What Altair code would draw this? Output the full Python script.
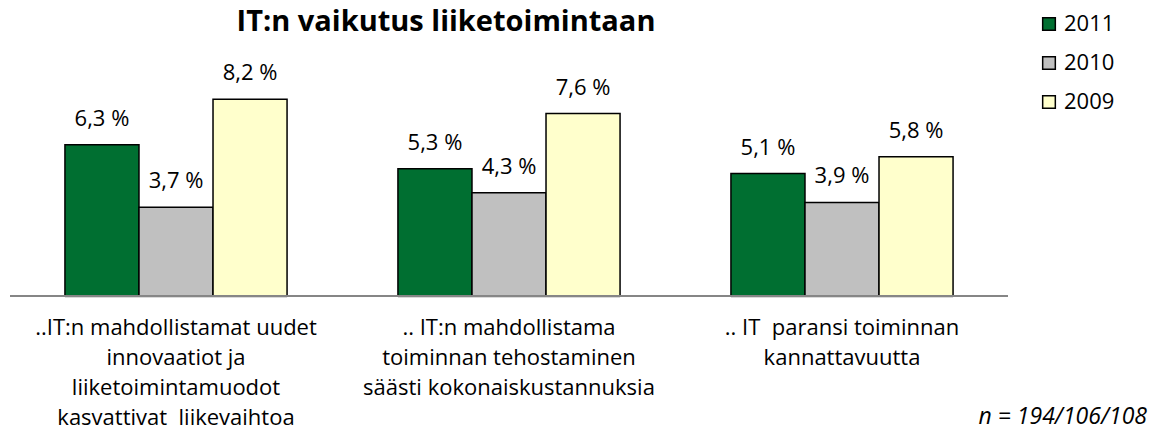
import altair as alt
import pandas as pd

categories = [
    "..IT:n mahdollistamat uudet|innovaatiot ja|liiketoimintamuodot|kasvattivat\u00a0 liikevaihtoa",
    ".. IT:n mahdollistama|toiminnan tehostaminen|säästi kokonaiskustannuksia",
    ".. IT\u00a0 paransi toiminnan|kannattavuutta",
]
years = ["2011", "2010", "2009"]
values_2011 = [6.3, 5.3, 5.1]
values_2010 = [3.7, 4.3, 3.9]
values_2009 = [8.2, 7.6, 5.8]
colors = ["#006F31", "#C0C0C0", "#FFFFCC"]

rows = []
for i, c in enumerate(categories):
    for y, vals in zip(years, [values_2011, values_2010, values_2009]):
        v = vals[i]
        rows.append({"cat": c, "year": y, "value": v,
                     "label": f"{v:.1f}".replace(".", ",") + " %"})
df = pd.DataFrame(rows)
cat_df = pd.DataFrame({"cat": categories})

FONT = "Open Sans"
FS = 22

x_scale = alt.Scale(paddingInner=0.333, paddingOuter=0.165, range=[2, 1000])
x_enc = alt.X("cat:N", sort=categories, title=None, scale=x_scale, axis=None)
y_enc = alt.Y("value:Q", scale=alt.Scale(domain=[0, 10], nice=False, range=[288, 48]), axis=None)
xo = alt.XOffset("year:N", sort=years)

base = alt.Chart(df)

shadow = base.mark_bar(color="#000000", opacity=0.15, xOffset=4, yOffset=2).encode(
    x=x_enc, y=y_enc, xOffset=xo)

bars = base.mark_bar(stroke="#000000", strokeWidth=1.5).encode(
    x=x_enc, y=y_enc, xOffset=xo,
    color=alt.Color("year:N", sort=years,
                    scale=alt.Scale(domain=years, range=colors),
                    legend=alt.Legend(title=None, orient="none", legendX=1030, legendY=5,
                                      symbolType="square", symbolSize=160,
                                      symbolStrokeColor="#000", symbolStrokeWidth=1.5,
                                      labelFontSize=FS, labelFont=FONT, labelColor="#000",
                                      rowPadding=17, labelOffset=4)))

labels = base.mark_text(font=FONT, fontSize=FS, baseline="alphabetic", dy=-19, color="#000").encode(
    x=x_enc, y=y_enc, xOffset=xo, text="label:N")

domain_line = alt.Chart(cat_df).mark_rule(color="#868686", strokeWidth=2).encode(
    x=alt.value(2), x2=alt.value(1000), y=alt.value(288))

cat_labels = alt.Chart(cat_df).mark_text(
    font=FONT, fontSize=FS, color="#000", baseline="top", align="center",
    lineBreak="|", lineHeight=30
).encode(x=alt.X("cat:N", sort=categories, scale=x_scale, axis=None),
         y=alt.value(310), text="cat:N")

title = alt.Chart(pd.DataFrame({"t": ["IT:n vaikutus liiketoimintaan"]})).mark_text(
    font=FONT, fontSize=29, fontWeight="bold", color="#000", baseline="alphabetic", align="center"
).encode(x=alt.value(438), y=alt.value(23), text="t:N")

note = alt.Chart(pd.DataFrame({"t": ["n = 194/106/108"]})).mark_text(
    font=FONT, fontSize=23, fontStyle="italic", color="#000", baseline="middle", align="right"
).encode(x=alt.value(1139), y=alt.value(409), text="t:N")

chart = alt.layer(shadow, bars, labels, domain_line, cat_labels, title, note).properties(
    width=1140, height=425,
    padding=0,
    autosize=alt.AutoSizeParams(type="none"),
    background="white",
).configure_view(stroke=None)

chart.save("out.html", embed_options={"renderer": "svg", "actions": False})
